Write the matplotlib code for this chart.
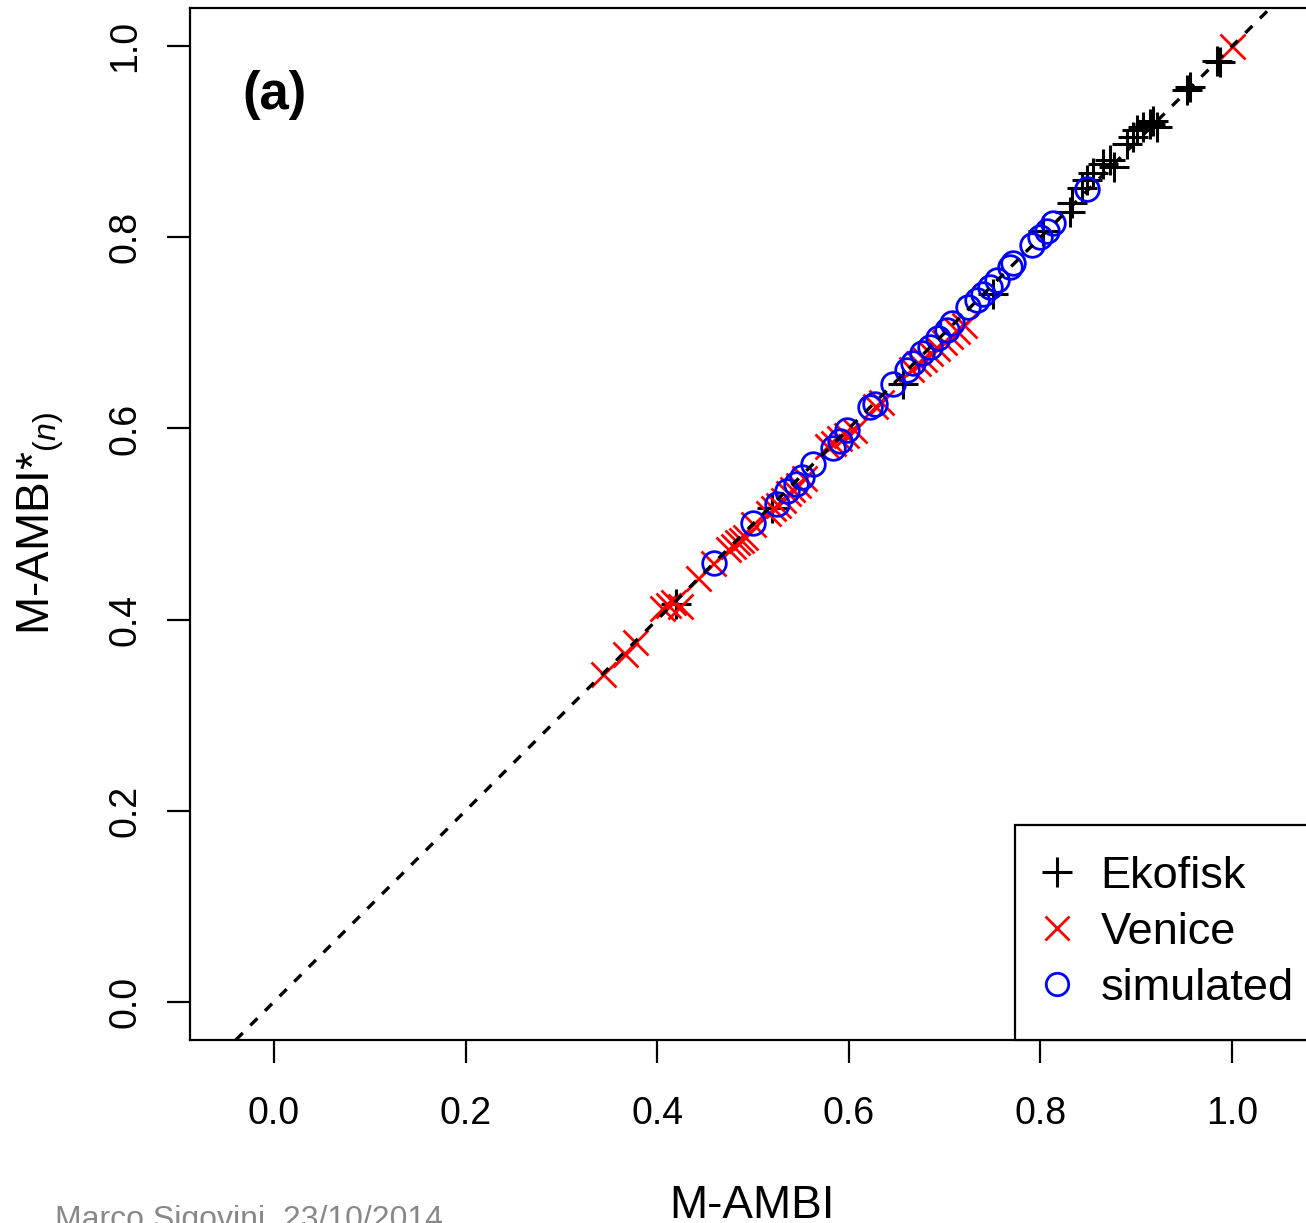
import matplotlib
matplotlib.use("Agg")
import matplotlib.pyplot as plt

plt.rcParams["font.family"] = ["Liberation Sans", "DejaVu Sans"]
plt.rcParams["mathtext.fontset"] = "custom"
plt.rcParams["mathtext.rm"] = "Liberation Sans"
plt.rcParams["mathtext.it"] = "Liberation Sans:italic"
plt.rcParams["mathtext.bf"] = "Liberation Sans:bold"

# M-AMBI vs normalised M-AMBI*(n) per data set
ekofisk_x = [0.420, 0.520, 0.657, 0.751, 0.803, 0.831, 0.833, 0.843, 0.849, 0.855,
             0.865, 0.873, 0.877, 0.890, 0.897, 0.901, 0.907, 0.914, 0.918, 0.922,
             0.953, 0.956, 0.984, 0.987]
ekofisk_y = [0.416, 0.517, 0.647, 0.741, 0.807, 0.826, 0.836, 0.852, 0.860, 0.867,
             0.877, 0.881, 0.874, 0.898, 0.905, 0.912, 0.915, 0.919, 0.922, 0.915,
             0.954, 0.957, 0.985, 0.983]

venice_x = [0.343, 0.366, 0.377, 0.405, 0.411, 0.416, 0.424, 0.443, 0.458, 0.474,
            0.479, 0.483, 0.487, 0.492, 0.500, 0.516, 0.521, 0.526, 0.531, 0.537,
            0.541, 0.547, 0.553, 0.577, 0.583, 0.590, 0.597, 0.605, 0.627, 0.634,
            0.665, 0.672, 0.679, 0.685, 0.692, 0.699, 0.706, 0.713, 0.720, 1.000]
venice_y = [0.343, 0.364, 0.376, 0.412, 0.415, 0.418, 0.414, 0.443, 0.459, 0.474,
            0.477, 0.481, 0.483, 0.486, 0.500, 0.511, 0.517, 0.520, 0.525, 0.532,
            0.537, 0.541, 0.548, 0.582, 0.585, 0.590, 0.593, 0.598, 0.624, 0.628,
            0.662, 0.668, 0.673, 0.679, 0.684, 0.690, 0.697, 0.702, 0.708, 1.000]

simulated_x = [0.459, 0.500, 0.525, 0.535, 0.545, 0.551, 0.563, 0.584, 0.591, 0.598,
               0.622, 0.627, 0.646, 0.661, 0.667, 0.676, 0.685, 0.693, 0.703, 0.708,
               0.724, 0.734, 0.740, 0.747, 0.755, 0.768, 0.771, 0.791, 0.800, 0.807,
               0.813, 0.849]
simulated_y = [0.459, 0.501, 0.521, 0.535, 0.542, 0.549, 0.563, 0.580, 0.587, 0.598,
               0.622, 0.626, 0.647, 0.661, 0.668, 0.679, 0.685, 0.695, 0.703, 0.710,
               0.727, 0.734, 0.741, 0.748, 0.755, 0.769, 0.773, 0.792, 0.800, 0.807,
               0.815, 0.851]

tick_values = [0.0, 0.2, 0.4, 0.6, 0.8, 1.0]
tick_labels = ["0.0", "0.2", "0.4", "0.6", "0.8", "1.0"]

W, H = 1306, 1223
fig = plt.figure(figsize=(W / 100, H / 100), dpi=100)
ax = fig.add_axes([190 / W, 1 - 1040 / H, (1314 - 190) / W, (1040 - 8) / H])

ax.plot(ekofisk_x, ekofisk_y, linestyle="none", marker="+", ms=22, mew=2.2,
        color="black", label="Ekofisk", zorder=2)
ax.plot(venice_x, venice_y, linestyle="none", marker="x", ms=18, mew=2.0,
        color="#ff0000", label="Venice", zorder=3)
ax.plot(simulated_x, simulated_y, linestyle="none", marker="o", ms=17, mew=2.0,
        mfc="none", mec="#0000ff", label="simulated", zorder=4)
ax.axline((0, 0), (1, 1), color="black", lw=2.4, linestyle=(0, (3, 3.2)), zorder=5)

ax.set_xlim(-0.0877, 1.0856)
ax.set_ylim(-0.04, 1.04)
ax.set_xticks(tick_values)
ax.set_xticklabels(tick_labels)
ax.set_yticks(tick_values)
ax.set_yticklabels(tick_labels, rotation=90, va="center")
ax.tick_params(axis="both", direction="out", length=16.5, width=1.6, labelsize=27)
ax.tick_params(axis="x", pad=24)
ax.tick_params(axis="y", pad=17)
for sp in ax.spines.values():
    sp.set_linewidth(1.6)

leg = ax.legend(loc="lower left", bbox_to_anchor=(1015 / W, 1 - 1040 / H),
                bbox_transform=fig.transFigure, frameon=True, fancybox=False,
                edgecolor="black", framealpha=1, fontsize=32.5, borderpad=0.69,
                handlelength=0.49, handletextpad=0.71, labelspacing=0.33,
                borderaxespad=0, markerscale=0.95)
leg.get_frame().set_linewidth(1.6)

fig.text(242 / W, 1 - 95 / H, "(a)", fontsize=38, fontweight="bold",
         ha="left", va="center")
fig.text(752 / W, 1 - 1218 / H, "M-AMBI", fontsize=33, ha="center", va="baseline")
fig.text(50 / W, 1 - 635 / H, r"M-AMBI*$_{\mathit{(n)}}$", fontsize=33,
         rotation=90, rotation_mode="anchor", ha="left", va="baseline")
fig.text(55 / W, 1 - 1228 / H, "Marco Sigovini, 23/10/2014", fontsize=23,
         color="#888888", ha="left", va="baseline")

fig.savefig("out.png", dpi=100)
